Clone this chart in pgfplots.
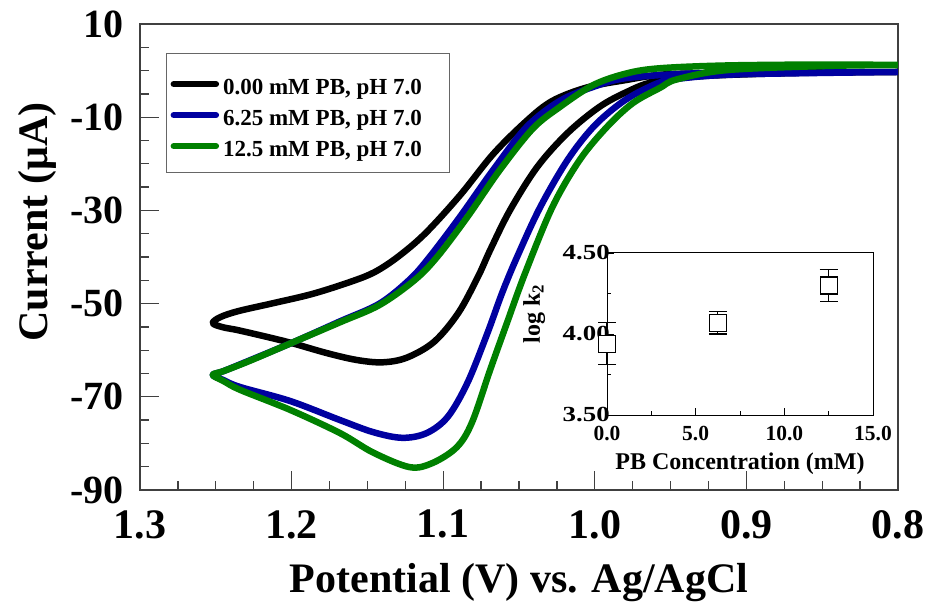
\documentclass[border=0pt]{standalone}
\usepackage{fontspec}
\setmainfont{Liberation Serif}
\usepackage{pgfplots}
\pgfplotsset{compat=1.18}
\definecolor{cvblue}{RGB}{0,0,160}
\definecolor{cvgreen}{RGB}{0,128,0}
\begin{document}
\begin{tikzpicture}
\begin{axis}[
  at={(0pt,0pt)}, anchor=south west,
  scale only axis, width=758pt, height=466pt,
  xmin=0.8, xmax=1.3, x dir=reverse,
  ymin=-90, ymax=10,
  xtick={0.8,0.9,1.0,1.1,1.2,1.3},
  xticklabels={0.8,0.9,1.0,1.1,1.2,1.3},
  ytick={-90,-70,-50,-30,-10,10},
  yticklabels={-90,-70,-50,-30,-10,10},
  minor x tick num=3, minor y tick num=3,
  tick align=inside, tick pos=left,
  major tick length=19pt, minor tick length=9pt,
  every tick/.style={black!75, line width=1.3pt},
  axis line style={black!75, line width=1.5pt},
  xticklabel style={font=\fontsize{42}{42}\selectfont\bfseries, inner sep=0pt, yshift=-20pt},
  yticklabel style={font=\fontsize{40}{40}\selectfont\bfseries, inner sep=0pt, xshift=-16pt},
  xlabel={Potential (V) vs. Ag/AgCl},
  ylabel={Current (μA)},
  label style={font=\fontsize{42}{42}\selectfont\bfseries},
  xlabel style={at={(axis description cs:0.5,0)}, anchor=base, yshift=-102pt},
  ylabel style={at={(axis description cs:-0.1214,0.575)}, anchor=base},
  legend image code/.code={\draw[#1, line cap=round] (0pt,-2pt) -- (42pt,-2pt);},
  legend style={at={(axis description cs:0.0343,0.9378)}, anchor=north west,
    draw=black!60, line width=1.2pt, fill=white,
    font=\fontsize{23}{23}\selectfont\bfseries,
    inner xsep=4pt, inner ysep=13pt, row sep=0pt,
    nodes={inner xsep=4pt, inner ysep=3pt, text height=25pt, text depth=-3pt}},
  legend cell align=left,
]
\addplot[black, line width=6.5pt, smooth, tension=0.55, line join=round] coordinates {
(0.800,-0.3) (0.865,-0.4) (0.930,-0.6) (0.957,-0.9) (0.979,-2.0) (1.005,-3.6) (1.028,-6.5) (1.045,-10.8) (1.067,-17.9) (1.089,-26.8) (1.112,-35.0) (1.130,-40.0) (1.145,-43.2) (1.160,-45.2) (1.186,-47.9) (1.212,-49.9) (1.235,-51.6) (1.247,-52.9) (1.252,-54.2) (1.245,-55.1) (1.234,-55.8) (1.203,-58.2) (1.177,-60.6) (1.157,-62.1) (1.140,-62.6) (1.124,-61.6) (1.106,-58.2) (1.090,-52.0) (1.077,-44.2) (1.069,-38.5) (1.056,-30.0) (1.038,-20.7) (1.018,-13.4) (0.997,-7.8) (0.979,-4.6) (0.962,-2.5) (0.930,-1.2) (0.865,-0.5) (0.800,-0.3)
};
\addlegendentry{0.00 mM PB, pH 7.0\hspace*{20pt}}
\addplot[cvblue, line width=6.5pt, smooth, tension=0.55, line join=round] coordinates {
(0.800,-0.3) (0.891,-0.5) (0.935,-0.6) (0.979,-1.6) (1.001,-3.5) (1.023,-6.5) (1.045,-12.1) (1.067,-21.3) (1.089,-31.4) (1.109,-40.0) (1.122,-44.8) (1.142,-50.0) (1.168,-53.8) (1.199,-58.3) (1.227,-62.1) (1.245,-64.5) (1.252,-65.3) (1.245,-66.4) (1.234,-67.9) (1.201,-70.9) (1.168,-75.0) (1.146,-77.6) (1.127,-78.8) (1.111,-77.8) (1.097,-74.3) (1.084,-67.0) (1.071,-56.5) (1.061,-47.6) (1.051,-39.8) (1.036,-29.3) (1.018,-19.2) (1.001,-12.1) (0.983,-7.0) (0.966,-3.8) (0.950,-2.0) (0.913,-0.9) (0.850,-0.5) (0.800,-0.3)
};
\addlegendentry{6.25 mM PB, pH 7.0\hspace*{20pt}}
\addplot[cvgreen, line width=6.5pt, smooth, tension=0.55, line join=round] coordinates {
(0.800,1.2) (0.847,1.3) (0.913,1.1) (0.957,0.5) (0.979,-0.6) (1.001,-3.1) (1.023,-7.8) (1.041,-12.5) (1.063,-21.5) (1.084,-31.4) (1.104,-40.0) (1.119,-45.0) (1.142,-50.3) (1.168,-54.0) (1.199,-58.3) (1.227,-62.2) (1.245,-64.5) (1.252,-65.3) (1.245,-66.6) (1.234,-68.5) (1.201,-72.8) (1.168,-77.8) (1.146,-82.0) (1.122,-85.1) (1.107,-84.2) (1.091,-80.8) (1.081,-75.5) (1.069,-64.2) (1.058,-54.2) (1.046,-43.5) (1.028,-29.3) (1.010,-19.2) (0.992,-12.1) (0.975,-7.0) (0.957,-3.7) (0.946,-1.9) (0.913,0.1) (0.847,1.0) (0.800,1.2)
};
\addlegendentry{12.5 mM PB, pH 7.0\hspace*{20pt}}
\end{axis}
\begin{axis}[
  at={(467pt,75pt)}, anchor=south west,
  scale only axis, width=266pt, height=162pt,
  xmin=0, xmax=15, ymin=3.5, ymax=4.5,
  xtick={0,5,10,15}, xticklabels={0.0,5.0,10.0,15.0},
  ytick={3.5,4,4.5}, yticklabels={3.50,4.00,4.50},
  minor x tick num=1, minor y tick num=1,
  tick align=inside, tick pos=left,
  major tick length=7pt, minor tick length=4pt,
  axis line style={black, line width=1pt},
  every tick/.style={black, line width=0.8pt},
  ticklabel style={font=\fontsize{21.5}{21.5}\selectfont\bfseries, inner sep=0pt},
  xticklabel style={yshift=-11pt},
  yticklabel style={xshift=3pt, xscale=1.25},
  xlabel={PB Concentration (mM)},
  ylabel={log k\textsubscript{2}},
  label style={font=\fontsize{24}{24}\selectfont\bfseries},
  xlabel style={at={(axis description cs:0.5,0)}, anchor=base, yshift=-54pt},
  ylabel style={at={(axis description cs:-0.252,0.623)}, anchor=base},
  axis background/.style={fill=white},
  clip=false,
]
\addplot[black, only marks, mark=square*, mark size=8.5pt,
  mark options={line width=1.3pt, fill=white, draw=black},
  error bars/.cd, y dir=both, y explicit,
  error bar style={line width=1.2pt, black},
  error mark options={rotate=90, mark size=9pt, line width=1.2pt, black}]
  coordinates {
  (0,3.94) +- (0,0.13)
  (6.25,4.07) +- (0,0.07)
  (12.5,4.30) +- (0,0.10)
};
\end{axis}
\pgfresetboundingbox
\path[use as bounding box] (-140pt,-112pt) rectangle (785pt,490pt);
\end{tikzpicture}
\end{document}
